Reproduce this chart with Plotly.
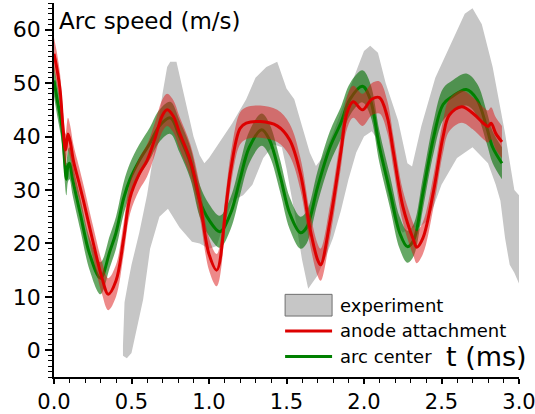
import plotly.graph_objects as go

# ---- data -------------------------------------------------------------
# anode attachment speed (m/s) vs time (ms)
anode_t = [0.00, 0.02, 0.04, 0.06, 0.075, 0.09, 0.105, 0.125, 0.16, 0.19, 0.25, 0.31,
           0.35, 0.40, 0.45, 0.49, 0.55, 0.60, 0.65, 0.70, 0.73, 0.77, 0.81, 0.88,
           0.94, 1.00, 1.05, 1.11, 1.14, 1.20, 1.24, 1.33, 1.44, 1.52, 1.59, 1.65,
           1.70, 1.72, 1.78, 1.85, 1.89, 1.93, 1.99, 2.05, 2.10, 2.15, 2.19, 2.25,
           2.32, 2.34, 2.38, 2.45, 2.51, 2.55, 2.63, 2.70, 2.77, 2.80, 2.82, 2.85, 2.89]
anode_v = [55.5, 52.5, 48.5, 41.0, 37.5, 40.5, 39.0, 35.5, 31.5, 28.0, 20.5, 13.5,
           10.5, 13.0, 21.0, 28.5, 33.0, 35.5, 39.5, 44.0, 45.0, 43.8, 40.7, 35.5,
           28.0, 18.0, 15.0, 27.0, 33.7, 41.5, 42.5, 42.8, 42.0, 39.4, 33.0, 23.0,
           17.0, 16.0, 24.0, 37.0, 44.4, 46.5, 45.0, 47.0, 47.3, 43.7, 37.0, 27.0,
           20.6, 19.3, 21.0, 30.0, 40.0, 44.0, 45.6, 44.4, 42.5, 41.9, 42.5, 40.6, 39.0]

# arc center speed (m/s) vs time (ms)
center_t = [0.00, 0.02, 0.05, 0.08, 0.09, 0.10, 0.12, 0.17, 0.23, 0.30, 0.36, 0.40,
            0.45, 0.49, 0.55, 0.62, 0.68, 0.75, 0.81, 0.88, 0.94, 1.00, 1.07, 1.14,
            1.20, 1.26, 1.34, 1.39, 1.46, 1.52, 1.59, 1.63, 1.70, 1.78, 1.85, 1.91,
            1.99, 2.04, 2.10, 2.17, 2.23, 2.28, 2.32, 2.38, 2.45, 2.51, 2.57, 2.66,
            2.73, 2.79, 2.83, 2.89]
center_v = [50.5, 47.0, 42.0, 32.0, 34.5, 35.0, 32.0, 25.5, 18.0, 13.5, 18.5, 22.0,
            28.5, 32.0, 35.5, 38.8, 42.0, 43.5, 40.0, 35.0, 28.0, 24.4, 22.2, 25.7,
            32.0, 38.0, 41.3, 39.4, 32.5, 25.7, 22.0, 23.0, 30.5, 38.0, 42.5, 47.0,
            49.4, 47.0, 38.0, 29.4, 22.0, 19.4, 20.6, 29.4, 40.0, 46.0, 47.5, 48.8,
            46.9, 41.9, 38.0, 35.0]

# uncertainty half-widths of the simulated speeds (m/s)
anode_err = 3.0
center_err = 3.0

# experimental envelope: upper and lower limits (m/s)
exp_up_t = [0.445, 0.455, 0.48, 0.50, 0.55, 0.60, 0.65, 0.70, 0.73, 0.75, 0.79, 0.83,
            0.86, 0.90, 0.94, 0.97, 1.00, 1.07, 1.15, 1.24, 1.30, 1.37, 1.44, 1.50,
            1.55, 1.60, 1.65, 1.69, 1.73, 1.80, 1.88, 1.96, 2.00, 2.04, 2.09, 2.14,
            2.22, 2.28, 2.31, 2.37, 2.46, 2.57, 2.65, 2.70, 2.76, 2.83, 2.91, 2.97, 3.00]
exp_up_v = [1.0, 9.0, 13.0, 16.0, 22.0, 29.0, 38.0, 48.0, 53.0, 54.0, 54.0, 49.0,
            45.0, 40.0, 36.5, 35.0, 36.0, 39.0, 42.5, 47.0, 51.0, 53.0, 54.0, 49.0,
            47.0, 42.0, 37.0, 34.5, 36.0, 40.6, 47.0, 53.0, 56.0, 57.0, 55.7, 50.0,
            43.0, 35.0, 34.4, 42.0, 51.0, 58.0, 63.0, 64.0, 61.0, 53.0, 40.6, 30.0, 29.0]
exp_lo_t = [0.445, 0.47, 0.50, 0.53, 0.575, 0.62, 0.68, 0.735, 0.81, 0.89, 0.94, 1.00,
            1.05, 1.10, 1.15, 1.22, 1.28, 1.35, 1.42, 1.47, 1.50, 1.55, 1.60, 1.64,
            1.70, 1.76, 1.80, 1.85, 1.90, 1.95, 2.00, 2.05, 2.10, 2.15, 2.20, 2.25,
            2.30, 2.35, 2.40, 2.45, 2.50, 2.60, 2.70, 2.80, 2.85, 2.88, 2.91, 2.94,
            2.97, 3.00]
exp_lo_v = [-1.0, -1.5, -0.5, 3.5, 9.5, 19.0, 25.0, 26.5, 23.0, 20.3, 20.0, 19.0,
            19.5, 24.0, 28.0, 29.0, 31.0, 36.0, 38.5, 38.0, 34.0, 26.0, 17.0, 11.5,
            14.0, 18.0, 21.0, 26.0, 32.0, 37.0, 40.0, 41.0, 39.0, 30.0, 24.0, 22.0,
            23.0, 23.0, 24.0, 27.0, 31.0, 36.0, 38.0, 35.0, 31.0, 28.0, 21.0, 16.0,
            14.5, 12.5]

x_ticks = [0.0, 0.5, 1.0, 1.5, 2.0, 2.5, 3.0]
y_ticks = [0, 10, 20, 30, 40, 50, 60]

legend_labels = ["experiment", "anode attachment", "arc center"]

# ---- styles -----------------------------------------------------------
FONT = "DejaVu Sans"
GREY_FILL = "#c6c6c6"
RED = "#dd0000"
RED_FILL = "rgba(220,20,20,0.5)"
GREEN = "#008000"
GREEN_FILL = "rgba(0,110,0,0.6)"

fig = go.Figure()

# experimental envelope
fig.add_trace(go.Scatter(x=exp_lo_t, y=exp_lo_v, mode="lines",
                         line=dict(width=0, color=GREY_FILL),
                         hoverinfo="skip", showlegend=False))
fig.add_trace(go.Scatter(x=exp_up_t, y=exp_up_v, mode="lines", fill="tonexty",
                         fillcolor=GREY_FILL, line=dict(width=0, color=GREY_FILL),
                         showlegend=False))


def band(t, v, err, fillcolor):
    lo = [val - err for val in v]
    hi = [val + err for val in v]
    fig.add_trace(go.Scatter(x=t, y=lo, mode="lines",
                             line=dict(width=0, shape="spline", color=fillcolor),
                             hoverinfo="skip", showlegend=False))
    fig.add_trace(go.Scatter(x=t, y=hi, mode="lines", fill="tonexty",
                             fillcolor=fillcolor,
                             line=dict(width=0, shape="spline", color=fillcolor),
                             hoverinfo="skip", showlegend=False))


# arc center: band then line
band(center_t, center_v, center_err, GREEN_FILL)
fig.add_trace(go.Scatter(x=center_t, y=center_v, mode="lines",
                         line=dict(color=GREEN, width=3, shape="spline"),
                         showlegend=False))

# anode attachment: band then line
band(anode_t, anode_v, anode_err, RED_FILL)
fig.add_trace(go.Scatter(x=anode_t, y=anode_v, mode="lines",
                         line=dict(color=RED, width=3, shape="spline"),
                         showlegend=False))

# ---- legend (drawn in paper coordinates) -------------------------------
sw_x0, sw_x1, txt_x = 0.497, 0.598, 0.611
row_y = [0.192, 0.123, 0.055]
shapes = [
    dict(type="rect", xref="paper", yref="paper", x0=sw_x0, x1=sw_x1,
         y0=row_y[0] - 0.029, y1=row_y[0] + 0.029,
         fillcolor=GREY_FILL, line=dict(color="#707070", width=1)),
    dict(type="line", xref="paper", yref="paper", x0=sw_x0, x1=sw_x1,
         y0=row_y[1], y1=row_y[1], line=dict(color=RED, width=3)),
    dict(type="line", xref="paper", yref="paper", x0=sw_x0, x1=sw_x1,
         y0=row_y[2], y1=row_y[2], line=dict(color=GREEN, width=3)),
]
annotations = [
    dict(text=lab, xref="paper", yref="paper", x=txt_x, y=yy, xanchor="left",
         yanchor="middle", showarrow=False, font=dict(family=FONT, size=18, color="black"))
    for lab, yy in zip(legend_labels, row_y)
]
annotations.append(dict(text="t (ms)", xref="paper", yref="paper", x=0.838, y=0.055,
                        xanchor="left", yanchor="middle", showarrow=False,
                        font=dict(family=FONT, size=27, color="black")))
annotations.append(dict(text="Arc speed (m/s)", xref="paper", yref="paper", x=0.006,
                        y=0.952, xanchor="left", yanchor="middle", showarrow=False,
                        font=dict(family=FONT, size=23, color="black")))

axis_common = dict(showgrid=False, zeroline=False, showline=True, linecolor="black",
                   linewidth=1.5, ticks="outside", tickcolor="black", tickwidth=1.5,
                   mirror=False, ticklabeloverflow="allow", automargin=False)

fig.update_layout(
    width=535, height=414,
    margin=dict(l=54, r=16, t=3, b=37),
    paper_bgcolor="white", plot_bgcolor="white",
    showlegend=False,
    shapes=shapes, annotations=annotations,
    xaxis=dict(range=[0, 3.0], tickvals=x_ticks,
               ticktext=[f"{v:.1f}" for v in x_ticks], ticklen=5,
               tickfont=dict(family=FONT, size=21, color="black"),
               minor=dict(dtick=0.1, ticklen=4, ticks="outside", tickcolor="black",
                          tickwidth=1.2),
               **axis_common),
    yaxis=dict(range=[-5, 65], tickvals=y_ticks, ticklen=7,
               tickfont=dict(family=FONT, size=22, color="black"),
               minor=dict(dtick=1, tick0=0, ticklen=4, ticks="outside",
                          tickcolor="black", tickwidth=1),
               **axis_common),
)

fig.write_html("out.html")
